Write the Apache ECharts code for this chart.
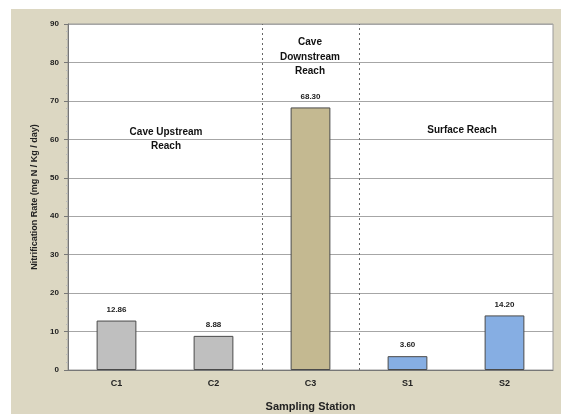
<!DOCTYPE html>
<html><head><meta charset="utf-8">
<script src="https://cdn.jsdelivr.net/npm/echarts@6/dist/echarts.min.js"></script>
<style>html,body{margin:0;padding:0;background:#fff}#c{width:561px;height:414px}</style>
</head><body><div id="c"></div>
<script>
const categories = ['C1', 'C2', 'C3', 'S1', 'S2'];
const rates = [12.86, 8.88, 68.30, 3.60, 14.20];
const yTicks = [0, 10, 20, 30, 40, 50, 60, 70, 80, 90];
const reachLabels = ['Cave Upstream\nReach', 'Cave\nDownstream\nReach', 'Surface Reach'];
const reachBoundaries = [2, 3]; // category boundaries (in category units) between reaches

const barColors = ['#bfbfbf', '#bfbfbf', '#c4b991', '#86aee3', '#86aee3'];
const font = 'Liberation Sans, Arial, sans-serif';

const chart = echarts.init(document.getElementById('c'), null, {renderer: 'canvas'});
chart.setOption({
  backgroundColor: '#ffffff',
  animation: false,
  graphic: [
    {type: 'rect', shape: {x: 11, y: 9, width: 550, height: 405}, style: {fill: '#dcd7c2'}, z: -10, silent: true},
    {type: 'rect', shape: {x: 68, y: 24, width: 485, height: 346}, style: {fill: '#ffffff'}, z: -9, silent: true},
    {type: 'text', x: 166, y: 139, style: {text: reachLabels[0], font: 'bold 10px ' + font, fill: '#111', align: 'center', verticalAlign: 'middle', lineHeight: 14}, z: 10},
    {type: 'text', x: 310, y: 57, style: {text: reachLabels[1], font: 'bold 10px ' + font, fill: '#111', align: 'center', verticalAlign: 'middle', lineHeight: 14.5}, z: 10},
    {type: 'text', x: 462, y: 130, style: {text: reachLabels[2], font: 'bold 10px ' + font, fill: '#111', align: 'center', verticalAlign: 'middle'}, z: 10}
  ],
  grid: {left: 68, right: 8, top: 24, bottom: 44, outerBoundsMode: 'none', containLabel: false, show: true, borderColor: '#9a9a9a', borderWidth: 1, backgroundColor: 'transparent'},
  xAxis: [{
    type: 'category',
    data: categories,
    name: 'Sampling Station',
    nameLocation: 'middle',
    nameGap: 31,
    nameTextStyle: {fontFamily: font, fontWeight: 'bold', fontSize: 11, color: '#222'},
    axisLine: {lineStyle: {color: '#777'}},
    axisTick: {show: false},
    axisLabel: {fontFamily: font, fontWeight: 'bold', fontSize: 9, color: '#222', margin: 9},
    splitLine: {show: false}
  }, {
    type: 'value',
    min: 0, max: categories.length,
    show: false,
    position: 'bottom'
  }],
  yAxis: {
    type: 'value',
    min: 0, max: 90, interval: 10,
    name: 'Nitrification Rate (mg N / Kg / day)',
    nameLocation: 'middle',
    nameGap: 29,
    nameTextStyle: {fontFamily: font, fontWeight: 'bold', fontSize: 9, color: '#222'},
    axisLine: {show: true, lineStyle: {color: '#777'}},
    axisTick: {show: true, length: 4, lineStyle: {color: '#777'}},
    minorTick: {show: true, splitNumber: 5, length: 2, lineStyle: {color: '#bbb'}},
    axisLabel: {fontFamily: font, fontWeight: 'bold', fontSize: 8, color: '#222', margin: 9,
      formatter: function (v) { return yTicks.indexOf(v) >= 0 ? String(v) : ''; }},
    splitLine: {show: true, lineStyle: {color: '#a6a6a6', width: 1}}
  },
  series: [{
    type: 'bar',
    barWidth: '41%',
    data: rates.map(function (v, i) { return {value: v, itemStyle: {color: barColors[i]}}; }),
    itemStyle: {borderColor: '#4a4a4a', borderWidth: 1},
    label: {show: true, position: 'top', distance: 7, fontFamily: font, fontWeight: 'bold', fontSize: 8, color: '#222',
      formatter: function (p) { return p.value.toFixed(2); }}
  }, {
    type: 'line',
    xAxisIndex: 1,
    data: [],
    silent: true,
    markLine: {
      silent: true,
      symbol: 'none',
      label: {show: false},
      lineStyle: {color: '#666', type: [2, 3], width: 1},
      data: reachBoundaries.map(function (b) { return {xAxis: b}; })
    }
  }]
});
</script></body></html>
